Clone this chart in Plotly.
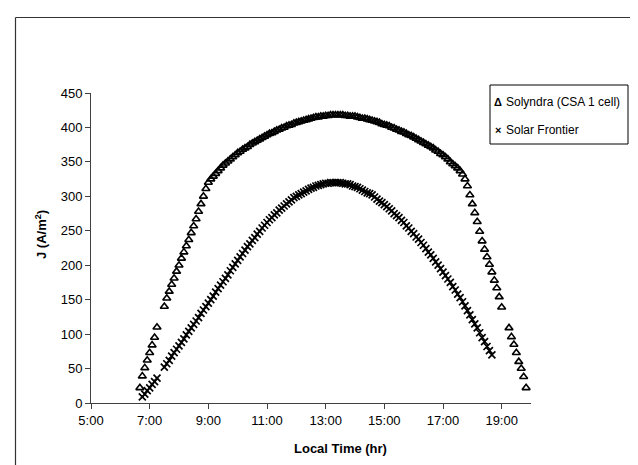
import plotly.graph_objects as go

# Local time (5-minute readings)
times = [
    "6:40", "6:45", "6:50", "6:55",
    "7:00", "7:05", "7:10", "7:15", "7:20", "7:25", "7:30", "7:35", "7:40", "7:45", "7:50", "7:55",
    "8:00", "8:05", "8:10", "8:15", "8:20", "8:25", "8:30", "8:35", "8:40", "8:45", "8:50", "8:55",
    "9:00", "9:05", "9:10", "9:15", "9:20", "9:25", "9:30", "9:35", "9:40", "9:45", "9:50", "9:55",
    "10:00", "10:05", "10:10", "10:15", "10:20", "10:25", "10:30", "10:35", "10:40", "10:45", "10:50", "10:55",
    "11:00", "11:05", "11:10", "11:15", "11:20", "11:25", "11:30", "11:35", "11:40", "11:45", "11:50", "11:55",
    "12:00", "12:05", "12:10", "12:15", "12:20", "12:25", "12:30", "12:35", "12:40", "12:45", "12:50", "12:55",
    "13:00", "13:05", "13:10", "13:15", "13:20", "13:25", "13:30", "13:35", "13:40", "13:45", "13:50", "13:55",
    "14:00", "14:05", "14:10", "14:15", "14:20", "14:25", "14:30", "14:35", "14:40", "14:45", "14:50", "14:55",
    "15:00", "15:05", "15:10", "15:15", "15:20", "15:25", "15:30", "15:35", "15:40", "15:45", "15:50", "15:55",
    "16:00", "16:05", "16:10", "16:15", "16:20", "16:25", "16:30", "16:35", "16:40", "16:45", "16:50", "16:55",
    "17:00", "17:05", "17:10", "17:15", "17:20", "17:25", "17:30", "17:35", "17:40", "17:45", "17:50", "17:55",
    "18:00", "18:05", "18:10", "18:15", "18:20", "18:25", "18:30", "18:35", "18:40", "18:45", "18:50", "18:55",
    "19:00", "19:05", "19:10", "19:15", "19:20", "19:25", "19:30", "19:35", "19:40", "19:45", "19:50",
]

solyndra = [
    22, 39, 51, 62,
    73, 84, 95, 110, None, None, 140, 152, 162, 172, 181, 191,
    200, 210, 219, 228, 237, 247, 257, 267, 278, 289, 300, 311,
    320, 325, 329, 333, 337, 341, 345, 348, 351, 354, 357, 360,
    363, 365, 368, 370, 372, 375, 377, 379, 381, 383, 385, 387,
    389, 391, 392, 394, 396, 397, 399, 400, 402, 403, 404, 406,
    407, 408, 409, 410, 411, 412, 413, 414, 415, 415, 416, 416,
    417, 417, 418, 418, 418, 418, 418, 418, 417, 417, 416, 416,
    416, 415, 414, 413, 413, 412, 411, 410, 409, 408, 407, 405,
    404, 403, 402, 400, 399, 397, 396, 394, 393, 391, 389, 388,
    386, 384, 382, 380, 378, 376, 374, 372, 370, 367, 365, 362,
    360, 357, 354, 350, 347, 344, 341, 337, 332, 325, 315, 302,
    289, 276, 263, 249, 235, 223, 212, 201, 190, 178, 167, 154,
    139, None, None, 109, 96, 85, 73, 60, 50, 38, 22,
]

solar_frontier = [
    None, 9, 13, 18,
    22, 27, 31, 36, None, None, 52, 57, 62, 68, 73, 78,
    83, 88, 93, 99, 104, 109, 114, 119, 124, 130, 135, 140,
    145, 150, 155, 161, 166, 171, 176, 181, 186, 192, 197, 202,
    207, 212, 217, 222, 227, 231, 236, 240, 245, 249, 254, 258,
    262, 266, 269, 273, 276, 280, 283, 286, 289, 292, 295, 298,
    300, 302, 304, 306, 308, 310, 312, 313, 315, 316, 317, 318,
    319, 319, 320, 320, 320, 320, 320, 319, 318, 318, 317, 315,
    314, 313, 311, 309, 307, 305, 304, 302, 299, 296, 293, 291,
    288, 285, 282, 279, 275, 272, 269, 265, 262, 257, 254, 249,
    246, 241, 238, 233, 229, 224, 219, 215, 210, 205, 200, 195,
    190, 185, 180, 175, 169, 164, 158, 153, 147, 141, 134, 128,
    121, 115, 109, 102, 95, 89, 82, 76, 70, None, None, None,
    None, None, None, None, None, None, None, None, None, None, None,
]

series_names = ["Solyndra (CSA 1 cell)", "Solar Frontier"]
x_tick_hours = [5, 7, 9, 11, 13, 15, 17, 19]
x_tick_labels = ["5:00", "7:00", "9:00", "11:00", "13:00", "15:00", "17:00", "19:00"]
y_ticks = [0, 50, 100, 150, 200, 250, 300, 350, 400, 450]

hours = [int(t.split(":")[0]) + int(t.split(":")[1]) / 60 for t in times]

FONT = "Liberation Sans, Arial, sans-serif"
W, H = 638, 465
L, R, T, B = 83, 115, 85, 70
pw, ph = W - L - R, H - T - B


def px(xp):
    return (xp - L) / pw


def py(yp):
    return (H - B - yp) / ph


fig = go.Figure()
fig.add_trace(go.Scatter(
    x=hours, y=solyndra, mode="markers", name=series_names[0],
    marker=dict(symbol="triangle-up-open", size=7, color="black",
                line=dict(width=1.6, color="black")),
    showlegend=False,
))
fig.add_trace(go.Scatter(
    x=hours, y=solar_frontier, mode="markers", name=series_names[1],
    marker=dict(symbol="x-thin-open", size=7, color="black",
                line=dict(width=1.7, color="black")),
    showlegend=False,
))

fig.update_layout(
    width=W, height=H,
    margin=dict(l=L, r=R, t=T, b=B),
    paper_bgcolor="white", plot_bgcolor="white",
    font=dict(family=FONT, size=13, color="black"),
    xaxis=dict(
        range=[5, 20], tickvals=x_tick_hours, ticktext=x_tick_labels,
        showgrid=False, zeroline=False, showline=True, linecolor="#404040",
        linewidth=1, ticks="outside", ticklen=5, tickcolor="#404040",
        tickfont=dict(size=13),
    ),
    yaxis=dict(
        range=[0, 450], tickvals=y_ticks,
        showgrid=False, zeroline=False, showline=True, linecolor="#404040",
        linewidth=1, ticks="outside", ticklen=5, tickcolor="#404040",
        tickfont=dict(size=13),
    ),
    showlegend=False,
)

# axis titles
fig.add_annotation(xref="paper", yref="paper", x=px(332), y=py(440),
                   xanchor="center", yanchor="middle",
                   text="<b>Local Time (hr)</b>", showarrow=False,
                   font=dict(size=13, family=FONT))
fig.add_annotation(xref="paper", yref="paper", x=px(33), y=py(227),
                   xanchor="center", yanchor="middle",
                   text="<b>J (A/m<sup>2</sup>)</b>", showarrow=False,
                   textangle=-90, font=dict(size=13, family=FONT))

# outer chart frame (top and left edges visible)
fig.add_shape(type="line", xref="paper", yref="paper",
              x0=px(7.5), y0=py(9.5), x1=px(640), y1=py(9.5),
              line=dict(color="#333333", width=1.2))
fig.add_shape(type="line", xref="paper", yref="paper",
              x0=px(7.5), y0=py(9.5), x1=px(7.5), y1=py(470),
              line=dict(color="#333333", width=1.2))

# legend box
fig.add_shape(type="rect", xref="paper", yref="paper",
              x0=px(482), y0=py(77), x1=px(620), y1=py(136),
              line=dict(color="black", width=1), fillcolor="white")
legend_rows = [(93.5, "Δ", series_names[0]), (121.5, "×", series_names[1])]
for yy, sym, label in legend_rows:
    fig.add_annotation(xref="paper", yref="paper", x=px(490), y=py(yy),
                       text="<b>" + sym + "</b>", showarrow=False,
                       xanchor="center", yanchor="middle",
                       font=dict(size=11, family=FONT))
    fig.add_annotation(xref="paper", yref="paper", x=px(496), y=py(yy),
                       text=label, showarrow=False, xanchor="left",
                       yanchor="middle", font=dict(size=12, family=FONT))

fig.write_html("out.html")
